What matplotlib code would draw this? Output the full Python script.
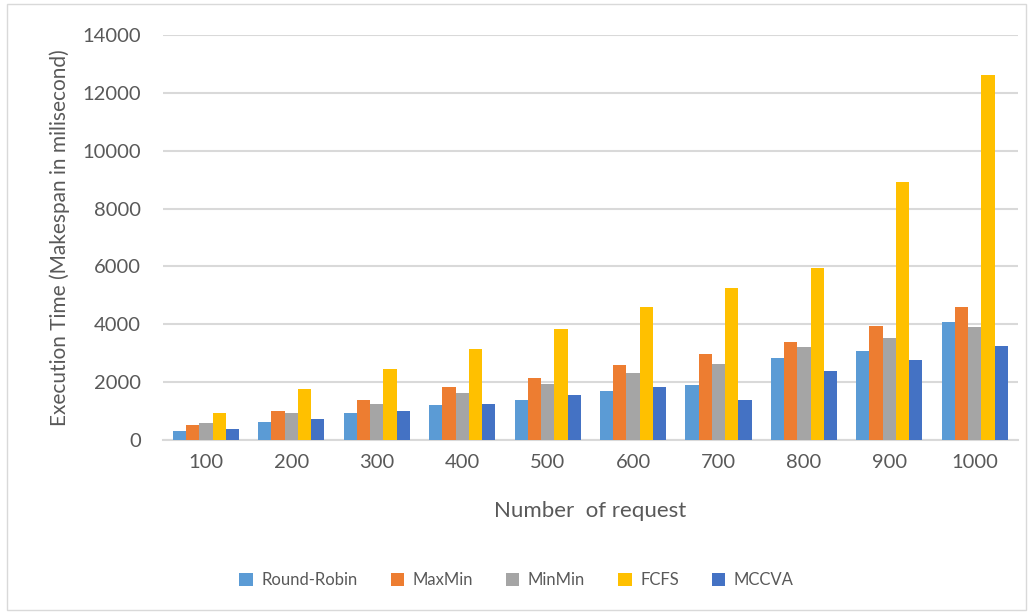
import matplotlib.pyplot as plt
import numpy as np
from matplotlib.patches import Rectangle

plt.rcParams['font.family'] = ['Lato', 'DejaVu Sans']

requests = ['100', '200', '300', '400', '500', '600', '700', '800', '900', '1000']
round_robin = [300, 640, 920, 1200, 1400, 1680, 1890, 2850, 3060, 4090]
maxmin = [510, 990, 1400, 1820, 2160, 2580, 2990, 3400, 3950, 4580]
minmin = [580, 920, 1260, 1610, 1950, 2300, 2640, 3200, 3540, 3890]
fcfs = [920, 1750, 2440, 3130, 3820, 4580, 5270, 5950, 8900, 12620]
mccva = [370, 710, 990, 1260, 1540, 1820, 1400, 2370, 2780, 3260]

series = [('Round-Robin', round_robin, '#5B9BD5'),
          ('MaxMin', maxmin, '#ED7D31'),
          ('MinMin', minmin, '#A5A5A5'),
          ('FCFS', fcfs, '#FFC000'),
          ('MCCVA', mccva, '#4472C4')]

text_color = '#595959'
grid_color = '#D9D9D9'

fig = plt.figure(figsize=(10.33, 6.12), dpi=100)
ax = fig.add_axes([0.158, 0.281, 0.827, 0.662])

x = np.arange(len(requests))
width = 0.155
for i, (name, vals, color) in enumerate(series):
    ax.bar(x + (i - 2) * width, vals, width, color=color, label=name, zorder=3)

ax.set_ylim(0, 14000)
ax.set_yticks(range(0, 14001, 2000))
ax.set_xlim(-0.5, len(requests) - 0.5)
ax.set_xticks(x)
ax.set_xticklabels(requests)
ax.tick_params(axis='both', length=0, labelsize=14.5, labelcolor=text_color)
ax.tick_params(axis='x', pad=10)
ax.tick_params(axis='y', pad=16)
ax.yaxis.grid(True, color=grid_color, linewidth=1.5, zorder=0)
ax.set_axisbelow(True)
for side in ['top', 'right', 'left']:
    ax.spines[side].set_visible(False)
ax.spines['bottom'].set_color(grid_color)
ax.spines['bottom'].set_linewidth(1.5)

ax.set_ylabel('Execution Time (Makespan in milisecond)', fontsize=15, color=text_color, labelpad=9)
ax.set_xlabel('Number  of request', fontsize=16, color=text_color, labelpad=22)

fig.legend(loc='center', bbox_to_anchor=(0.5, 0.052), ncol=5, frameon=False,
           fontsize=12, labelcolor=text_color, handlelength=0.8, handleheight=0.8,
           columnspacing=2.0, handletextpad=0.5)

fig.patches.append(Rectangle((0.007, 0.003), 0.986, 0.99, transform=fig.transFigure,
                             fill=False, edgecolor='#D9D9D9', linewidth=1))

fig.savefig('out.png', dpi=100)
